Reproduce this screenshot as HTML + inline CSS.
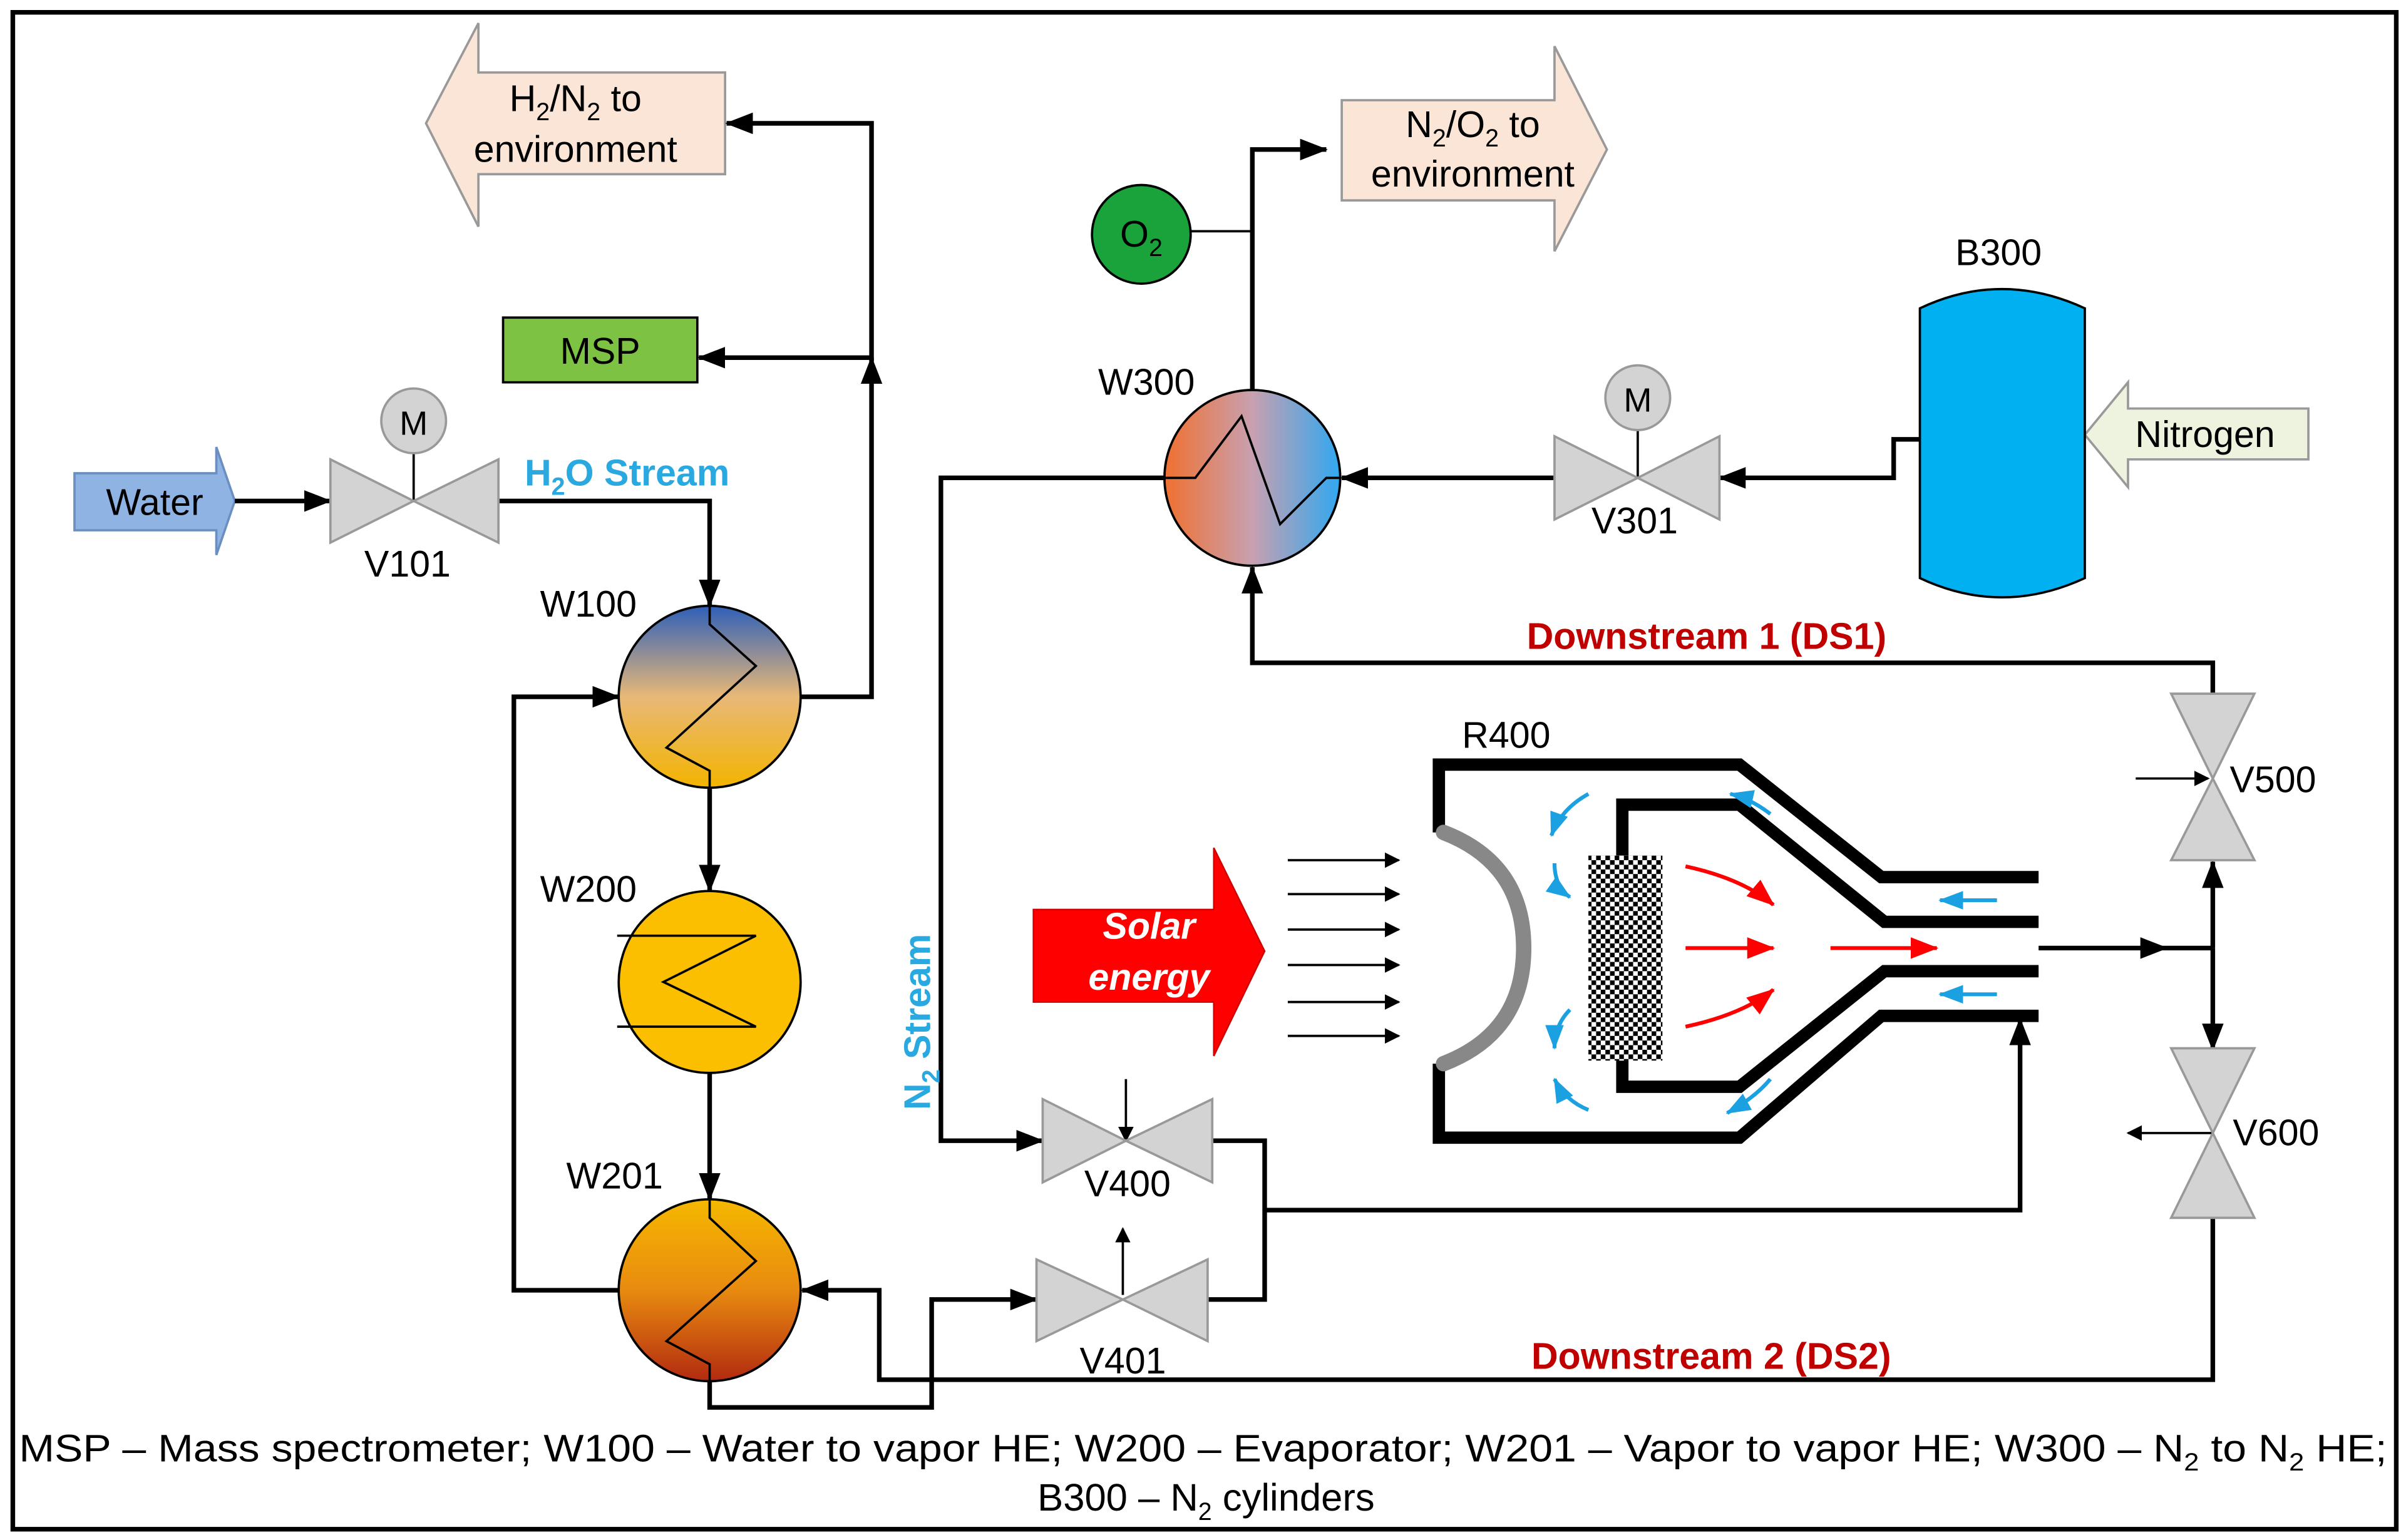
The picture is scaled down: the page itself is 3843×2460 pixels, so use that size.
<!DOCTYPE html>
<html><head><meta charset="utf-8"><style>
html,body{margin:0;padding:0;background:#fff;}
svg{display:block;}
text{font-family:"Liberation Sans",Arial,sans-serif;}
</style></head><body>
<svg width="3843" height="2460" viewBox="0 0 1560 999" xmlns="http://www.w3.org/2000/svg">
<defs>
<marker id="a" markerWidth="10" markerHeight="10" refX="9" refY="5" orient="auto" markerUnits="userSpaceOnUse" viewBox="0 0 10 10"><path d="M0,0 L10,5 L0,10 z" fill="#000"/></marker>
<marker id="ab" markerWidth="18" markerHeight="14" refX="17" refY="7" orient="auto" markerUnits="userSpaceOnUse"><path d="M0,0 L18,7 L0,14 z" fill="#000"/></marker>
<marker id="ar" markerWidth="18" markerHeight="14" refX="17" refY="7" orient="auto" markerUnits="userSpaceOnUse"><path d="M0,0 L18,7 L0,14 z" fill="#f00"/></marker>
<marker id="abl" markerWidth="16" markerHeight="12" refX="15" refY="6" orient="auto" markerUnits="userSpaceOnUse"><path d="M0,0 L16,6 L0,12 z" fill="#1ba1e2"/></marker>
<linearGradient id="g100" x1="0" y1="0" x2="0" y2="1"><stop offset="0" stop-color="#2e5fb8"/><stop offset="0.5" stop-color="#e8b878"/><stop offset="1" stop-color="#f3b400"/></linearGradient>
<linearGradient id="g201" x1="0" y1="0" x2="0" y2="1"><stop offset="0" stop-color="#f5b800"/><stop offset="0.5" stop-color="#e88a10"/><stop offset="1" stop-color="#b22a10"/></linearGradient>
<linearGradient id="g300" x1="0" y1="0" x2="1" y2="0"><stop offset="0" stop-color="#f07030"/><stop offset="0.5" stop-color="#c8a0b0"/><stop offset="1" stop-color="#30a8f0"/></linearGradient>
<pattern id="chk" width="6" height="6" patternUnits="userSpaceOnUse"><rect width="6" height="6" fill="#fff"/><rect width="3" height="3" fill="#000"/><rect x="3" y="3" width="3" height="3" fill="#000"/></pattern>
</defs>
<rect x="8" y="8" width="1546" height="984" fill="#fff" stroke="#000" stroke-width="3"/>

<path d="M276,80 L310,15 L310,47 L470,47 L470,113 L310,113 L310,147 Z" fill="#fbe5d6" stroke="#999" stroke-width="1.5"/>
<text x="373" y="72" font-size="24" text-anchor="middle">H<tspan font-size="16" dy="6">2</tspan><tspan dy="-6">/N</tspan><tspan font-size="16" dy="6">2</tspan><tspan dy="-6"> to</tspan></text>
<text x="373" y="105" font-size="24" text-anchor="middle">environment</text>
<path d="M870,65 L1008,65 L1008,30 L1042,97 L1008,163 L1008,130 L870,130 Z" fill="#fbe5d6" stroke="#999" stroke-width="1.5"/>
<text x="955" y="89" font-size="24" text-anchor="middle">N<tspan font-size="16" dy="6">2</tspan><tspan dy="-6">/O</tspan><tspan font-size="16" dy="6">2</tspan><tspan dy="-6"> to</tspan></text>
<text x="955" y="121" font-size="24" text-anchor="middle">environment</text>
<path d="M48,307 L140,307 L140,290 L152,325 L140,360 L140,344 L48,344 Z" fill="#8fb4e3" stroke="#6a8fc0" stroke-width="1.5"/>
<text x="100" y="334" font-size="24" text-anchor="middle">Water</text>
<path d="M1352,282 L1380,248 L1380,265 L1497,265 L1497,298 L1380,298 L1380,316 Z" fill="#eef3e0" stroke="#999" stroke-width="1.5"/>
<text x="1430" y="290" font-size="24" text-anchor="middle">Nitrogen</text>

<circle cx="740" cy="152" r="32" fill="#1aa33a" stroke="#000" stroke-width="1.5"/>
<text x="740" y="160" font-size="24" text-anchor="middle">O<tspan font-size="16" dy="6">2</tspan></text>
<rect x="326" y="206" width="126" height="42" fill="#7dc242" stroke="#000" stroke-width="1.5"/>
<text x="389" y="236" font-size="24" text-anchor="middle">MSP</text>

<g fill="none" stroke="#000" stroke-width="3">
<line x1="152" y1="325" x2="214" y2="325" marker-end="url(#ab)"/>
<polyline points="323,325 460,325 460,393" marker-end="url(#ab)"/>
<polyline points="519,452 565,452 565,232" marker-end="url(#ab)"/>
<polyline points="565,234 565,80 471,80" marker-end="url(#ab)"/>
<line x1="565" y1="232" x2="453" y2="232" marker-end="url(#ab)"/>
<line x1="460" y1="511" x2="460" y2="578" marker-end="url(#ab)"/>
<line x1="460" y1="696" x2="460" y2="778" marker-end="url(#ab)"/>
<polyline points="401,837 333,837 333,452 401,452" marker-end="url(#ab)"/>
<polyline points="460,896 460,913 604,913 604,843 672,843" marker-end="url(#ab)"/>
<polyline points="783,843 820,843 820,740 786,740"/>
<polyline points="820,785 1310,785 1310,661" marker-end="url(#ab)"/>
<polyline points="755,310 610,310 610,740 676,740" marker-end="url(#ab)"/>
<polyline points="812,253 812,97 860,97" marker-end="url(#ab)"/>
<line x1="772" y1="150" x2="812" y2="150" stroke-width="1.5"/>
<polyline points="1245,285 1228,285 1228,310 1115,310" marker-end="url(#ab)"/>
<line x1="1008" y1="310" x2="870" y2="310" marker-end="url(#ab)"/>
<polyline points="1435,450 1435,430 812,430 812,368" marker-end="url(#ab)"/>
<line x1="1322" y1="615" x2="1405" y2="615" marker-end="url(#ab)"/>
<line x1="1405" y1="615" x2="1435" y2="615"/>
<line x1="1435" y1="615" x2="1435" y2="559" marker-end="url(#ab)"/>
<line x1="1435" y1="615" x2="1435" y2="681" marker-end="url(#ab)"/>
<polyline points="1435,790 1435,895 570,895 570,837 520,837" marker-end="url(#ab)"/>
</g>
<g stroke="#000" stroke-width="1.5" fill="none">
<line x1="268" y1="294" x2="268" y2="325"/>
<line x1="1062" y1="279" x2="1062" y2="310"/>
<line x1="730" y1="700" x2="730" y2="740" marker-end="url(#a)"/>
<line x1="728" y1="840" x2="728" y2="797" marker-end="url(#a)"/>
<line x1="1385" y1="505" x2="1432" y2="505" marker-end="url(#a)"/>
<line x1="1435" y1="735" x2="1380" y2="735" marker-end="url(#a)"/>
</g>

<g fill="#d3d3d3" stroke="#999" stroke-width="1.5">
<path d="M214,298 L268,325 L214,352 Z M323,298 L268,325 L323,352 Z"/>
<path d="M1008,283 L1062,310 L1008,337 Z M1115,283 L1062,310 L1115,337 Z"/>
<path d="M676,713 L730,740 L676,767 Z M786,713 L730,740 L786,767 Z"/>
<path d="M672,817 L728,843 L672,870 Z M783,817 L728,843 L783,870 Z"/>
<path d="M1408,450 L1435,505 L1462,450 Z M1408,558 L1435,505 L1462,558 Z"/>
<path d="M1408,680 L1435,735 L1462,680 Z M1408,790 L1435,735 L1462,790 Z"/>
<circle cx="268" cy="273" r="21"/>
<circle cx="1062" cy="258" r="21"/>
</g>
<text x="268" y="282" font-size="22" text-anchor="middle">M</text>
<text x="1062" y="267" font-size="22" text-anchor="middle">M</text>

<g stroke="#000" stroke-width="1.5">
<circle cx="460" cy="452" r="59" fill="url(#g100)"/>
<circle cx="460" cy="637" r="59" fill="#fbbf00"/>
<circle cx="460" cy="837" r="59" fill="url(#g201)"/>
<circle cx="812" cy="310" r="57" fill="url(#g300)"/>
</g>
<g fill="none" stroke="#000" stroke-width="1.5">
<polyline points="460,393 460,405 490,432 432,485 460,500 460,511"/>
<polyline points="400,607 490,607 430,637 490,666 400,666"/>
<polyline points="460,778 460,790 490,818 432,870 460,885 460,896"/>
<polyline points="755,310 775,310 805,270 830,340 860,310 869,310"/>
</g>

<path d="M1245,200 Q1298,175 1352,200 L1352,375 Q1298,400 1245,375 Z" fill="#00b0f0" stroke="#000" stroke-width="1.5"/>

<g fill="none" stroke="#000" stroke-width="8" stroke-linejoin="miter">
<polyline points="1322,569 1220,569 1128,496 933,496 933,540"/>
<polyline points="933,690 933,738 1128,738 1220,659 1322,659"/>
<polyline points="1322,598 1222,598 1128,522 1052,522 1052,555"/>
<polyline points="1052,688 1052,705 1128,705 1222,630 1322,630"/>
</g>
<path d="M936,540 Q988,560 988,615 Q988,670 936,690" fill="none" stroke="#888" stroke-width="10" stroke-linecap="round"/>
<rect x="1030" y="555" width="48" height="133" fill="url(#chk)"/>
<g stroke="#000" stroke-width="1.5">
<line x1="835" y1="558" x2="907" y2="558" marker-end="url(#a)"/>
<line x1="835" y1="580" x2="907" y2="580" marker-end="url(#a)"/>
<line x1="835" y1="603" x2="907" y2="603" marker-end="url(#a)"/>
<line x1="835" y1="626" x2="907" y2="626" marker-end="url(#a)"/>
<line x1="835" y1="650" x2="907" y2="650" marker-end="url(#a)"/>
<line x1="835" y1="672" x2="907" y2="672" marker-end="url(#a)"/>
</g>
<g fill="none" stroke="#f00" stroke-width="2.5">
<path d="M1093,562 Q1130,570 1150,587" marker-end="url(#ar)"/>
<line x1="1093" y1="615" x2="1150" y2="615" marker-end="url(#ar)"/>
<path d="M1093,666 Q1130,658 1150,642" marker-end="url(#ar)"/>
<line x1="1187" y1="615" x2="1256" y2="615" marker-end="url(#ar)"/>
</g>
<g fill="none" stroke="#1ba1e2" stroke-width="2.5">
<path d="M1030,515 Q1012,525 1006,542" marker-end="url(#abl)"/>
<path d="M1008,560 Q1008,575 1018,582" marker-end="url(#abl)"/>
<path d="M1018,655 Q1008,665 1008,680" marker-end="url(#abl)"/>
<path d="M1030,720 Q1015,714 1008,700" marker-end="url(#abl)"/>
<path d="M1148,528 Q1135,518 1122,515" marker-end="url(#abl)"/>
<path d="M1148,700 Q1138,712 1120,722" marker-end="url(#abl)"/>
<line x1="1295" y1="584" x2="1258" y2="584" marker-end="url(#abl)"/>
<line x1="1295" y1="645" x2="1258" y2="645" marker-end="url(#abl)"/>
</g>
<path d="M670,590 L787,590 L787,550 L820,617 L787,685 L787,650 L670,650 Z" fill="#f00" stroke="#c00" stroke-width="1"/>
<text x="745" y="609" font-size="24" fill="#fff" font-weight="bold" font-style="italic" text-anchor="middle">Solar</text>
<text x="745" y="642" font-size="24" fill="#fff" font-weight="bold" font-style="italic" text-anchor="middle">energy</text>

<g font-size="24">
<text x="236" y="374">V101</text>
<text x="1032" y="346">V301</text>
<text x="703" y="776">V400</text>
<text x="700" y="891">V401</text>
<text x="1446" y="514">V500</text>
<text x="1448" y="743">V600</text>
<text x="350" y="400">W100</text>
<text x="350" y="585">W200</text>
<text x="367" y="771">W201</text>
<text x="712" y="256">W300</text>
<text x="948" y="485">R400</text>
<text x="1268" y="172">B300</text>
</g>
<text x="340" y="315" font-size="24" font-weight="bold" fill="#2aa9e0">H<tspan font-size="16" dy="6">2</tspan><tspan dy="-6">O Stream</tspan></text>
<text transform="translate(603,720) rotate(-90)" font-size="24" font-weight="bold" fill="#2aa9e0">N<tspan font-size="16" dy="6">2</tspan><tspan dy="-6"> Stream</tspan></text>
<text x="990" y="421" font-size="24" font-weight="bold" fill="#c00000">Downstream 1 (DS1)</text>
<text x="993" y="888" font-size="24" font-weight="bold" fill="#c00000">Downstream 2 (DS2)</text>
<text x="12" y="948" font-size="25" textLength="1536" lengthAdjust="spacingAndGlyphs">MSP – Mass spectrometer; W100 – Water to vapor HE; W200 – Evaporator; W201 – Vapor to vapor HE; W300 – N<tspan font-size="16" dy="6">2</tspan><tspan dy="-6"> to N</tspan><tspan font-size="16" dy="6">2</tspan><tspan dy="-6"> HE;</tspan></text>
<text x="782" y="980" font-size="25" text-anchor="middle">B300 – N<tspan font-size="16" dy="6">2</tspan><tspan dy="-6"> cylinders</tspan></text>
</svg>
</body></html>
